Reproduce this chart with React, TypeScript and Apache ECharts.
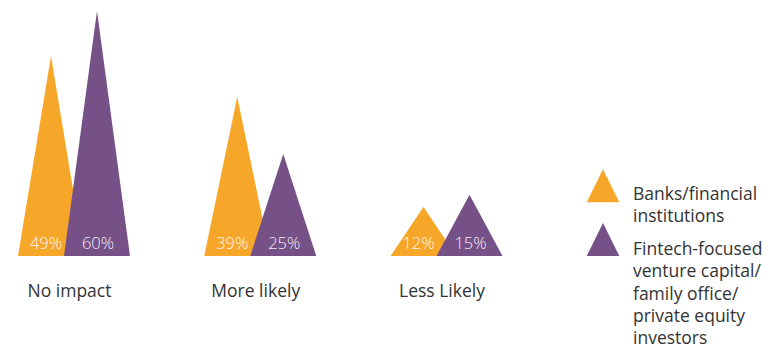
import React, { useEffect, useRef } from "react";
import * as echarts from "echarts";

const categories = ["No impact", "More likely", "Less Likely"];
const banksValues = [49, 39, 12];
const fintechValues = [60, 25, 15];
const seriesNames = ["Banks/financial\ninstitutions", "Fintech-focused\nventure capital/\nfamily office/\nprivate equity\ninvestors"];

const ORANGE = "#F6A72A";
const PURPLE = "#765188";
const FONT = "'Open Sans', 'Noto Sans', sans-serif";

export default function App() {
  const ref = useRef<HTMLDivElement>(null);
  useEffect(() => {
    if (!ref.current) return;
    const chart = echarts.init(ref.current, undefined, { renderer: "svg" });
    const labelStyle = (dx: number) => ({
      show: true,
      position: "insideBottom",
      distance: 5,
      offset: [dx, 0],
      formatter: "{c}%",
      color: "rgba(255,255,255,0.93)",
      fontSize: 16.5,
      fontWeight: 300,
      fontFamily: FONT,
    });
    chart.setOption({
      animation: false,
      grid: { left: 74, right: 316.5, top: 11, bottom: 93 },
      xAxis: {
        type: "category",
        data: categories,
        boundaryGap: false,
        axisLine: { show: false },
        axisTick: { show: false },
        splitLine: { show: false },
        axisLabel: {
          color: "#333333",
          fontSize: 17.5,
          fontFamily: FONT,
          margin: 25,
          padding: [0, 9, 0, 0],
        },
      },
      yAxis: { type: "value", min: 0, max: 60, show: false, splitLine: { show: false } },
      series: [
        {
          name: seriesNames[0],
          type: "pictorialBar",
          symbol: "triangle",
          barWidth: 66,
          barGap: "-30.3%",
          itemStyle: { color: ORANGE },
          label: labelStyle(-5),
          data: banksValues,
          z: 2,
        },
        {
          name: seriesNames[1],
          type: "pictorialBar",
          symbol: "triangle",
          barWidth: 66,
          barGap: "-30.3%",
          itemStyle: { color: PURPLE },
          label: labelStyle(1),
          data: fintechValues,
          z: 3,
        },
      ],
      graphic: [
        {
          type: "polygon",
          shape: { points: [[586.7, 202.3], [619.3, 202.3], [603, 169.3]] },
          style: { fill: ORANGE },
        },
        {
          type: "polygon",
          shape: { points: [[586.7, 256], [619.3, 256], [603, 223]] },
          style: { fill: PURPLE },
        },
        {
          type: "text",
          left: 633,
          top: 182,
          style: {
            text: seriesNames[0],
            fontSize: 17.5,
            lineHeight: 22.3,
            fontFamily: FONT,
            fill: "#333333",
          },
        },
        {
          type: "text",
          left: 633,
          top: 237,
          style: {
            text: seriesNames[1],
            fontSize: 17.5,
            lineHeight: 22.3,
            fontFamily: FONT,
            fill: "#333333",
          },
        },
      ],
    });
    return () => chart.dispose();
  }, []);
  return (
    <div
      ref={ref}
      style={{ position: "fixed", left: 0, top: 0, width: 763, height: 349, background: "#fff" }}
    />
  );
}
